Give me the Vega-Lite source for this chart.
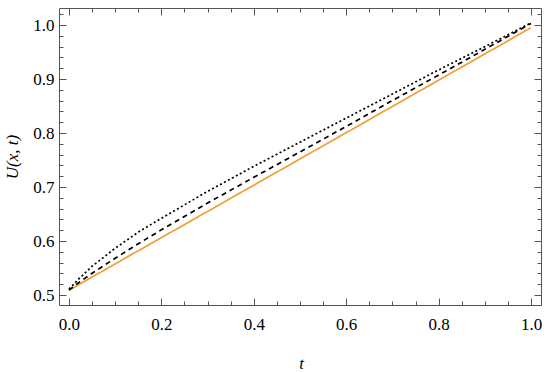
{
  "$schema": "https://vega.github.io/schema/vega-lite/v6.json",
  "width": 482,
  "height": 297,
  "autosize": {"type": "none"},
  "padding": {"left": 59, "top": 8, "right": 9, "bottom": 67},
  "background": "white",
  "config": {
    "view": {"stroke": "#555555", "strokeWidth": 1},
    "axis": {
      "domain": false, "grid": false, "tickColor": "#555555", "tickWidth": 1,
      "labelFont": "Times New Roman", "labelFontSize": 17, "labelColor": "#000000",
      "titleFont": "Times New Roman", "titleFontSize": 17, "titleFontWeight": "normal",
      "titleFontStyle": "italic", "titleColor": "#000000",
      "labelFlush": false, "labelOverlap": false
    }
  },
  "data": {"values": [
    {"t": 0.0, "u": 0.509, "s": "a"},
    {"t": 0.1, "u": 0.5576, "s": "a"},
    {"t": 0.2, "u": 0.6062, "s": "a"},
    {"t": 0.3, "u": 0.6548, "s": "a"},
    {"t": 0.4, "u": 0.7034, "s": "a"},
    {"t": 0.5, "u": 0.752, "s": "a"},
    {"t": 0.6, "u": 0.8006, "s": "a"},
    {"t": 0.7, "u": 0.8492, "s": "a"},
    {"t": 0.8, "u": 0.8978, "s": "a"},
    {"t": 0.9, "u": 0.9464, "s": "a"},
    {"t": 1.0, "u": 0.995, "s": "a"},
    {"t": 0.0, "u": 0.509, "s": "b"},
    {"t": 0.02, "u": 0.5222, "s": "b"},
    {"t": 0.05, "u": 0.5403, "s": "b"},
    {"t": 0.1, "u": 0.5681, "s": "b"},
    {"t": 0.15, "u": 0.5949, "s": "b"},
    {"t": 0.2, "u": 0.6207, "s": "b"},
    {"t": 0.3, "u": 0.6703, "s": "b"},
    {"t": 0.4, "u": 0.7179, "s": "b"},
    {"t": 0.5, "u": 0.7650, "s": "b"},
    {"t": 0.6, "u": 0.8121, "s": "b"},
    {"t": 0.7, "u": 0.8602, "s": "b"},
    {"t": 0.8, "u": 0.9073, "s": "b"},
    {"t": 0.9, "u": 0.9549, "s": "b"},
    {"t": 1.0, "u": 1.003, "s": "b"},
    {"t": 0.0, "u": 0.511, "s": "c"},
    {"t": 0.02, "u": 0.5287, "s": "c"},
    {"t": 0.05, "u": 0.5533, "s": "c"},
    {"t": 0.1, "u": 0.5866, "s": "c"},
    {"t": 0.15, "u": 0.6164, "s": "c"},
    {"t": 0.2, "u": 0.6422, "s": "c"},
    {"t": 0.3, "u": 0.6918, "s": "c"},
    {"t": 0.4, "u": 0.7384, "s": "c"},
    {"t": 0.5, "u": 0.7830, "s": "c"},
    {"t": 0.6, "u": 0.8276, "s": "c"},
    {"t": 0.7, "u": 0.8722, "s": "c"},
    {"t": 0.8, "u": 0.9168, "s": "c"},
    {"t": 0.9, "u": 0.9599, "s": "c"},
    {"t": 1.0, "u": 1.004, "s": "c"}
  ]},
  "layer": [
    {
      "mark": {"type": "line", "strokeWidth": 1.7},
      "encoding": {
        "x": {"field": "t", "type": "quantitative",
          "scale": {"domain": [-0.0216, 1.0216], "nice": false, "zero": false},
          "axis": {"orient": "bottom", "values": [0, 0.2, 0.4, 0.6, 0.8, 1.0], "format": ".1f",
            "tickSize": -7, "labelPadding": 18, "title": "t", "titleX": 242, "titleY": 58, "titleBaseline": "middle"}},
        "y": {"field": "u", "type": "quantitative",
          "scale": {"domain": [0.4815, 1.0315], "nice": false, "zero": false},
          "axis": {"orient": "left", "values": [0.5, 0.6, 0.7, 0.8, 0.9, 1.0], "format": ".1f",
            "tickSize": -7, "labelPadding": 12, "title": "U(x, t)", "titleX": -47, "titleY": 148.5, "titleBaseline": "middle", "titleAngle": -90}},
        "color": {"field": "s", "type": "nominal", "legend": null,
          "scale": {"domain": ["a", "b", "c"], "range": ["#F39C34", "#000000", "#000000"]}},
        "strokeDash": {"field": "s", "type": "nominal", "legend": null,
          "scale": {"domain": ["a", "b", "c"], "range": [[1, 0], [5, 4], [2, 2.5]]}}
      }
    },
    {
      "mark": {"type": "line", "opacity": 0},
      "encoding": {
        "x": {"field": "t", "type": "quantitative",
          "axis": {"orient": "bottom", "values": [0.05, 0.1, 0.15, 0.25, 0.3, 0.35, 0.45, 0.5, 0.55, 0.65, 0.7, 0.75, 0.85, 0.9, 0.95],
            "tickSize": -4, "labels": false, "title": null}},
        "y": {"field": "u", "type": "quantitative",
          "axis": {"orient": "left", "values": [0.52, 0.54, 0.56, 0.58, 0.62, 0.64, 0.66, 0.68, 0.72, 0.74, 0.76, 0.78, 0.82, 0.84, 0.86, 0.88, 0.92, 0.94, 0.96, 0.98, 1.02],
            "tickSize": -4, "labels": false, "title": null}},
        "detail": {"field": "s"}
      }
    },
    {
      "mark": {"type": "line", "opacity": 0},
      "encoding": {
        "x": {"field": "t", "type": "quantitative",
          "axis": {"orient": "top", "values": [0, 0.2, 0.4, 0.6, 0.8, 1.0], "tickSize": -7, "labels": false, "title": null}},
        "y": {"field": "u", "type": "quantitative",
          "axis": {"orient": "right", "values": [0.5, 0.6, 0.7, 0.8, 0.9, 1.0], "tickSize": -7, "labels": false, "title": null}},
        "detail": {"field": "s"}
      }
    },
    {
      "mark": {"type": "line", "opacity": 0},
      "encoding": {
        "x": {"field": "t", "type": "quantitative",
          "axis": {"orient": "top", "values": [0.05, 0.1, 0.15, 0.25, 0.3, 0.35, 0.45, 0.5, 0.55, 0.65, 0.7, 0.75, 0.85, 0.9, 0.95],
            "tickSize": -4, "labels": false, "title": null}},
        "y": {"field": "u", "type": "quantitative",
          "axis": {"orient": "right", "values": [0.52, 0.54, 0.56, 0.58, 0.62, 0.64, 0.66, 0.68, 0.72, 0.74, 0.76, 0.78, 0.82, 0.84, 0.86, 0.88, 0.92, 0.94, 0.96, 0.98, 1.02],
            "tickSize": -4, "labels": false, "title": null}},
        "detail": {"field": "s"}
      }
    }
  ],
  "resolve": {"axis": {"x": "independent", "y": "independent"}}
}
